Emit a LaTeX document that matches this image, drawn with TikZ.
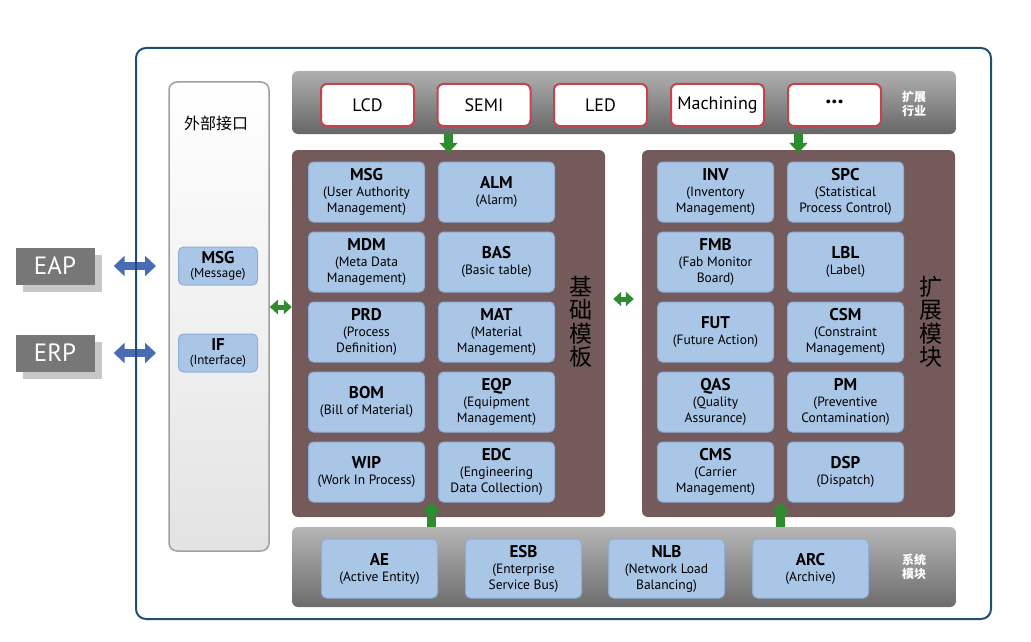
\documentclass[tikz,border=0pt]{standalone}
\usepackage{fontspec}
\setmainfont{PT Sans}
\newfontfamily\cjk{Noto Sans CJK SC}
\usepackage{xcolor}
\usetikzlibrary{arrows.meta,positioning,shapes,calc,shadows}

\definecolor{frameblue}{HTML}{1F4E79}
\definecolor{modblue}{HTML}{A9C6E6}
\definecolor{modline}{HTML}{8EAED6}
\definecolor{panelbrown}{HTML}{745A5A}
\definecolor{redline}{HTML}{C4444E}
\definecolor{arrgreen}{HTML}{2E8B2E}
\definecolor{arrblue}{HTML}{4A6CB3}
\definecolor{taggray}{HTML}{777777}

\newcommand{\modname}[1]{{\fontsize{17}{18}\selectfont\bfseries #1}\\}

\begin{document}
\begin{tikzpicture}[x=1pt, y=-1pt,
  module/.style={rectangle, rounded corners=5pt, draw=modline, fill=modblue, line width=1pt, minimum width=116pt, minimum height=60pt, inner sep=0pt, align=center, font=\fontsize{13.5}{16}\selectfont},
  smallmod/.style={module, minimum width=79pt, minimum height=38pt, font=\fontsize{13}{13.5}\selectfont},
  industry/.style={rectangle, rounded corners=6pt, draw=redline, fill=white, line width=2pt, minimum width=93pt, minimum height=42pt, font=\fontsize{18}{18}\selectfont},
  panel/.style={rectangle, rounded corners=6pt, fill=panelbrown, minimum width=313pt, minimum height=367pt},
  tag/.style={rectangle, fill=taggray, text=white, minimum width=79pt, minimum height=37pt, font=\fontsize{25}{25}\selectfont, drop shadow={shadow xshift=7pt, shadow yshift=-7pt, fill=black!22, opacity=1}},
  sidelabel/.style={align=center, text=white, font=\cjk\bfseries\fontsize{12}{14}\selectfont},
  biglabel/.style={align=center, text=black, font=\cjk\fontsize{23}{23.5}\selectfont},
  bluearr/.style={draw=arrblue, line width=8pt, {Triangle[width=20pt,length=11pt]}-{Triangle[width=20pt,length=11pt]}},
  greendbl/.style={draw=arrgreen, line width=5pt, {Triangle[width=14pt,length=8pt]}-{Triangle[width=14pt,length=8pt]}},
  greenarr/.style={draw=arrgreen, line width=9pt, -{Triangle[width=18pt,length=10pt]}}
]
\useasboundingbox (0,0) rectangle (1031,642);

% Left: external interface
\node[rectangle, rounded corners=8pt, draw=gray!75, line width=1.5pt, top color=white, bottom color=gray!22, minimum width=100pt, minimum height=469pt] (ifpanel) at (219,316.5) {};
\node[font=\cjk\fontsize{16}{16}\selectfont] (iftitle) at (216,123) {外部接口};
\node[smallmod] (msgIf) at (218,266) {\modname{MSG}(Message)};
\node[smallmod] (ifBox) at (218,353) {\modname{IF}(Interface)};

% Outside systems
\node[tag] (eap) at (55,266) {EAP};
\node[tag] (erp) at (55,353) {ERP};

% Top: industries
\node[rectangle, rounded corners=6pt, top color=gray!62, bottom color=gray!80!black, minimum width=664pt, minimum height=63pt] (topbar) at (624,102.5) {};
\node[industry] (lcd) at (367.5,105) {LCD};
\node[industry] (semi) at (484,105) {SEMI};
\node[industry] (led) at (600.5,105) {LED};
\node[industry] (mach) at (717.5,105) {Machining};
\node[industry, font=\fontsize{24}{24}\selectfont\bfseries] (more) at (834.5,105) {···};
\node[sidelabel] (indlabel) at (914,104) {扩展\\行业};

% Middle: base and extension panels
\node[panel] (base) at (448.5,333.5) {};
\node[panel] (ext) at (798.5,333.5) {};
\node[biglabel] (baselabel) at (581,322) {基\\础\\模\\板};
\node[biglabel] (extlabel) at (931,322) {扩\\展\\模\\块};

% Base modules
\node[module] (msg) at (366.5,192) {\modname{MSG}(User Authority\\Management)};
\node[module] (alm) at (496.5,192) {\modname{ALM}(Alarm)};
\node[module] (mdm) at (366.5,262) {\modname{MDM}(Meta Data\\Management)};
\node[module] (bas) at (496.5,262) {\modname{BAS}(Basic table)};
\node[module] (prd) at (366.5,332) {\modname{PRD}(Process\\Definition)};
\node[module] (mat) at (496.5,332) {\modname{MAT}(Material\\Management)};
\node[module] (bom) at (366.5,402) {\modname{BOM}(Bill of Material)};
\node[module] (eqp) at (496.5,402) {\modname{EQP}(Equipment\\Management)};
\node[module] (wip) at (366.5,472) {\modname{WIP}(Work In Process)};
\node[module] (edc) at (496.5,472) {\modname{EDC}(Engineering\\Data Collection)};

% Extension modules
\node[module] (inv) at (715.5,192) {\modname{INV}(Inventory\\Management)};
\node[module] (spc) at (845.5,192) {\modname{SPC}(Statistical\\Process Control)};
\node[module] (fmb) at (715.5,262) {\modname{FMB}(Fab Monitor\\Board)};
\node[module] (lbl) at (845.5,262) {\modname{LBL}(Label)};
\node[module] (fut) at (715.5,332) {\modname{FUT}(Future Action)};
\node[module] (csm) at (845.5,332) {\modname{CSM}(Constraint\\Management)};
\node[module] (qas) at (715.5,402) {\modname{QAS}(Quality\\Assurance)};
\node[module] (pm) at (845.5,402) {\modname{PM}(Preventive\\Contamination)};
\node[module] (cms) at (715.5,472) {\modname{CMS}(Carrier\\Management)};
\node[module] (dsp) at (845.5,472) {\modname{DSP}(Dispatch)};

% Bottom: system modules
\node[rectangle, rounded corners=6pt, top color=gray!58, bottom color=gray!85!black, minimum width=664pt, minimum height=80pt] (sysbar) at (624,567) {};
\node[module, minimum height=59pt] (ae) at (379.5,568.5) {\modname{AE}(Active Entity)};
\node[module, minimum height=59pt] (esb) at (523.5,568.5) {\modname{ESB}(Enterprise\\Service Bus)};
\node[module, minimum height=59pt] (nlb) at (666.5,568.5) {\modname{NLB}(Network Load\\Balancing)};
\node[module, minimum height=59pt] (arc) at (810.5,568.5) {\modname{ARC}(Archive)};
\node[sidelabel] (syslabel) at (914,567) {系统\\模块};

% Arrows
\draw[bluearr, shorten <=19pt, shorten >=22pt] (eap) -- (msgIf);
\draw[bluearr, shorten <=19pt, shorten >=22pt] (erp) -- (ifBox);
\draw[greendbl] ([yshift=9.5pt]ifpanel.east) -- ([yshift=26.5pt]base.west);
\draw[greendbl, shorten <=8pt, shorten >=8pt] ([yshift=34.5pt]base.east) -- ([yshift=34.5pt]ext.west);
\draw[greenarr] (topbar.south -| base.north) -- ([yshift=-3pt]base.north);
\draw[greenarr] (topbar.south -| ext.north) -- ([yshift=-3pt]ext.north);
\coordinate (upA) at ($(wip.south east)!0.5!(edc.south west)$);
\coordinate (upB) at ($(cms.south east)!0.5!(dsp.south west)$);
\draw[greenarr] (sysbar.north -| upA) -- (upA);
\draw[greenarr] (sysbar.north -| upB) -- (upB);

% Outer frame
\node[rectangle, rounded corners=10pt, draw=frameblue, line width=2pt, minimum width=855pt, minimum height=571pt] (frame) at (563.5,333.5) {};

\end{tikzpicture}
\end{document}
